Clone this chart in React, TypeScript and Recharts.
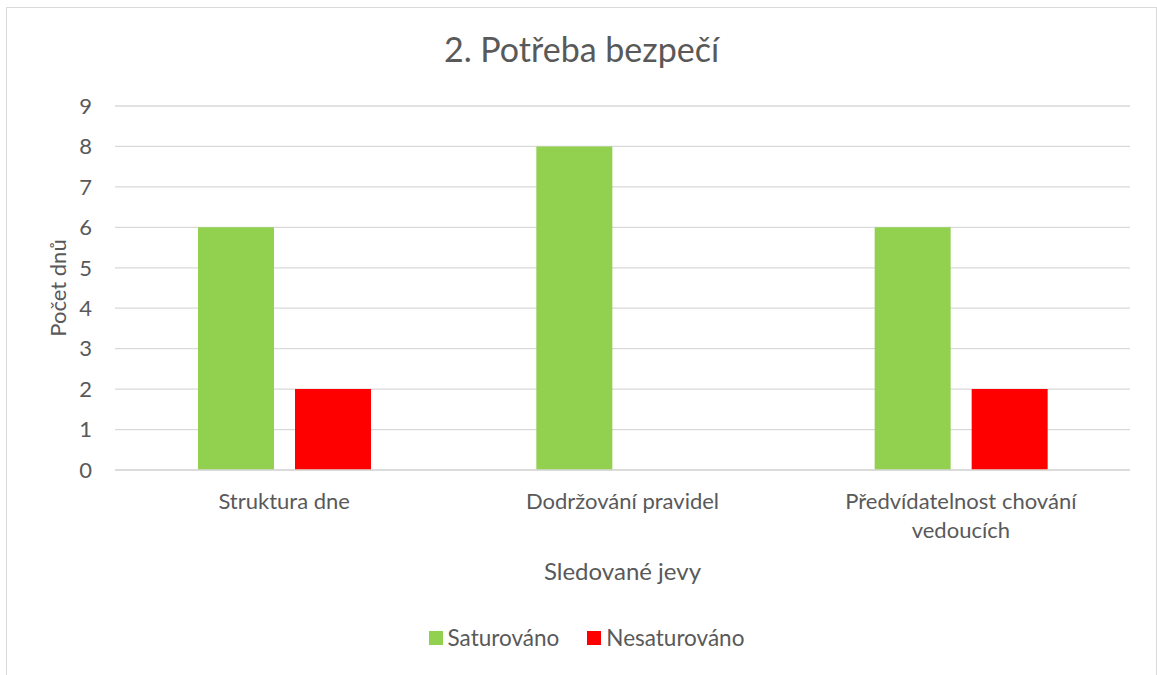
import { Bar, BarChart, CartesianGrid, Legend, XAxis, YAxis } from "recharts";

const categories = ["Struktura dne", "Dodržování pravidel", "Předvídatelnost chování vedoucích"];
const saturovano = [6, 8, 6];
const nesaturovano = [2, 0, 2];
const yTicks = [0, 1, 2, 3, 4, 5, 6, 7, 8, 9];
const seriesOrder = ["saturovano", "nesaturovano"];

const chartData = categories.map((name, i) => ({
  name,
  saturovano: saturovano[i],
  nesaturovano: nesaturovano[i],
}));

const FONT = "Lato, 'Open Sans', sans-serif";
const TEXT = "#595959";
const GRID = "#d9d9d9";

// greedy word wrap, roughly 11px per character at 22px
function wrapLabel(label: string, maxChars: number) {
  const lines: string[] = [];
  let cur = "";
  for (const w of label.split(" ")) {
    const next = cur ? cur + " " + w : w;
    if (next.length > maxChars && cur) {
      lines.push(cur);
      cur = w;
    } else {
      cur = next;
    }
  }
  if (cur) lines.push(cur);
  return lines;
}

function CategoryTick(props: any) {
  const { x, y, payload } = props;
  const lines = wrapLabel(String(payload.value), 27);
  return (
    <text x={x} y={y} textAnchor="middle" fill={TEXT} fontSize={22} fontFamily={FONT}>
      {lines.map((ln, i) => (
        <tspan key={i} x={x} dy={i === 0 ? 15.6 : 29}>
          {ln}
        </tspan>
      ))}
    </text>
  );
}

function LegendContent(props: any) {
  const items = [...(props.payload || [])].sort(
    (a: any, b: any) => seriesOrder.indexOf(a.dataKey) - seriesOrder.indexOf(b.dataKey)
  );
  return (
    <div style={{ display: "flex", justifyContent: "center", gap: 28, fontFamily: FONT, fontSize: 22.5, color: TEXT }}>
      {items.map((it: any) => (
        <div key={it.value} style={{ display: "flex", alignItems: "center", gap: 5 }}>
          <span style={{ width: 14, height: 14, background: it.color, display: "inline-block" }} />
          <span>{it.value}</span>
        </div>
      ))}
    </div>
  );
}

export default function App() {
  return (
    <div style={{ position: "absolute", top: 0, left: 0, width: 1157, height: 675, background: "#fff", overflow: "hidden" }}>
      <div
        style={{
          position: "absolute",
          left: 6,
          top: 7,
          width: 1151,
          height: 700,
          border: `1px solid ${GRID}`,
          boxSizing: "border-box",
        }}
      />
      <div
        style={{
          position: "absolute",
          top: 28,
          left: 6,
          width: 1151,
          textAlign: "center",
          fontFamily: FONT,
          fontSize: 34,
          color: TEXT,
          lineHeight: "42px",
        }}
      >
        2. Potřeba bezpečí
      </div>
      <BarChart
        width={1157}
        height={675}
        data={chartData}
        margin={{ top: 106, right: 27, bottom: 0, left: 0 }}
        barSize={76}
        barGap={21}
        style={{ position: "absolute", top: 0, left: 0 }}
      >
        <CartesianGrid horizontal vertical={false} stroke={GRID} strokeWidth={1.3} />
        <XAxis
          dataKey="name"
          height={205}
          axisLine={{ stroke: GRID, strokeWidth: 1.3 }}
          tickLine={false}
          tick={<CategoryTick />}
          tickMargin={17}
          interval={0}
          label={{
            content: (p: any) => (
              <text
                x={p.viewBox.x + p.viewBox.width / 2}
                y={p.viewBox.y + 110}
                textAnchor="middle"
                fill={TEXT}
                fontSize={24}
                fontFamily={FONT}
              >
                Sledované jevy
              </text>
            ),
          }}
        />
        <YAxis
          width={115}
          domain={[0, 9]}
          ticks={yTicks}
          axisLine={false}
          tickLine={false}
          tickMargin={17}
          tick={{ fill: TEXT, fontSize: 22, fontFamily: FONT }}
          label={{
            content: (p: any) => (
              <text
                x={57}
                y={p.viewBox.y + p.viewBox.height / 2}
                transform={`rotate(-90 57 ${p.viewBox.y + p.viewBox.height / 2})`}
                textAnchor="middle"
                dominantBaseline="central"
                fill={TEXT}
                fontSize={22}
                fontFamily={FONT}
              >
                Počet dnů
              </text>
            ),
          }}
        />
        <Legend
          layout="horizontal"
          verticalAlign="middle"
          align="center"
          content={<LegendContent />}
          wrapperStyle={{ top: 624, left: 8, width: 1157 }}
        />
        <Bar dataKey="saturovano" name="Saturováno" fill="#92D050" isAnimationActive={false} />
        <Bar dataKey="nesaturovano" name="Nesaturováno" fill="#FF0000" isAnimationActive={false} />
      </BarChart>
    </div>
  );
}
